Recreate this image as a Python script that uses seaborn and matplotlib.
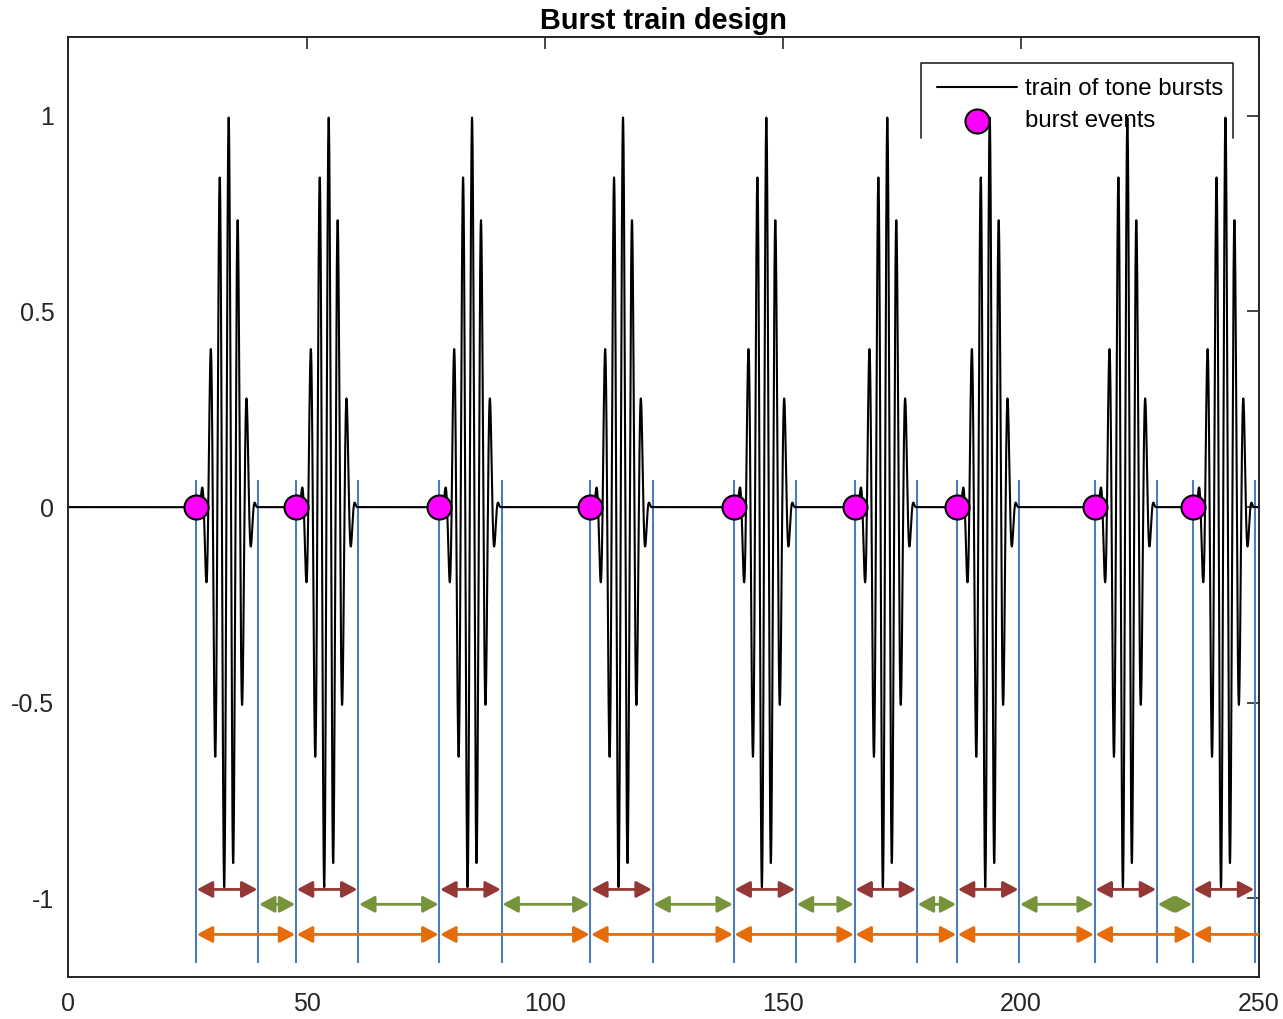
import numpy as np
import pandas as pd
import matplotlib
matplotlib.use("Agg")
import matplotlib.pyplot as plt
from matplotlib.patches import FancyArrowPatch
import seaborn as sns

# Burst onset times (x units) and the onset of the next burst past the window
burst_onsets = [26.8, 47.8, 77.9, 109.6, 139.7, 165.1, 186.6, 215.5, 236.1]
following_onset = 264.0
burst_duration = 13.07

# Tone-burst shape: Hann-windowed cosine carrier
carrier_period = 1.904
window_length = 12.5
window_center_offset = 6.59
carrier_peak_offset = 6.86

x_ticks = [0, 50, 100, 150, 200, 250]
y_ticks = [-1, -0.5, 0, 0.5, 1]
y_tick_labels = ["-1", "-0.5", "0", "0.5", "1"]

title_text = "Burst train design"
line_label = "train of tone bursts"
event_label = "burst events"

# Colours
blue = "#4A7EBB"
dark_red = "#953735"
olive = "#77933C"
orange = "#E46C0A"
magenta = "#FF00FF"
axis_grey = "#262626"

sns.set_theme(style="white")
plt.rcParams["font.family"] = ["Liberation Sans", "DejaVu Sans"]
plt.rcParams["axes.unicode_minus"] = False

# Build the burst train signal
t = np.arange(0.0, 250.0 + 1e-9, 0.01)
signal = np.zeros_like(t)
for onset in burst_onsets + [following_onset]:
    rel = t - onset
    inside = (rel >= 0) & (rel <= burst_duration)
    d = rel - window_center_offset
    env = np.where(np.abs(d) <= window_length / 2,
                   np.cos(np.pi * d / window_length) ** 2, 0.0)
    carrier = np.cos(2 * np.pi * (rel - carrier_peak_offset) / carrier_period)
    signal = np.where(inside, env * carrier, signal)

train = pd.DataFrame({"t": t, "amplitude": signal})
events = pd.DataFrame({"t": burst_onsets, "amplitude": np.zeros(len(burst_onsets))})

burst_ends = [o + burst_duration for o in burst_onsets]
all_onsets = burst_onsets + [following_onset]

fig = plt.figure(figsize=(12.83, 10.19), dpi=100)
ax = fig.add_axes([0.0533, 0.0415, 0.928, 0.9217])

# Vertical markers at burst starts and ends
ax.vlines(burst_onsets + burst_ends, -1.166, 0.069, colors=blue,
          linewidth=1.5, zorder=1)

sns.lineplot(data=train, x="t", y="amplitude", color="black", linewidth=1.5,
             estimator=None, sort=False, ax=ax, label=line_label, zorder=2)

def draw_arrow(x0, x1, y, color, style):
    arrow = FancyArrowPatch((x0, y), (x1, y), arrowstyle=style,
                            color=color, linewidth=2.0, shrinkA=0.5,
                            shrinkB=0.5, mutation_scale=1, joinstyle="round",
                            capstyle="butt", zorder=3)
    ax.add_patch(arrow)

head = "<|-|>,head_length=9.5,head_width=5.0"
# Burst durations
for o, e in zip(burst_onsets, burst_ends):
    draw_arrow(o, e, -0.977, dark_red, head)
# Silent gaps between bursts
for e, nxt in zip(burst_ends[:-1], burst_onsets[1:]):
    draw_arrow(e, nxt, -1.015, olive, head)
# Onset-to-onset intervals
for o, nxt in zip(all_onsets[:-1], all_onsets[1:]):
    draw_arrow(o, nxt, -1.092, orange, head)

sns.scatterplot(data=events, x="t", y="amplitude", s=300, color=magenta,
                edgecolor="black", linewidth=1.5, ax=ax, label=event_label,
                zorder=4)

ax.set_xlim(0, 250)
ax.set_ylim(-1.2, 1.2)
ax.set_xticks(x_ticks)
ax.set_xticklabels([str(v) for v in x_ticks])
ax.set_yticks(y_ticks)
ax.set_yticklabels(y_tick_labels)
ax.set_xlabel("")
ax.set_ylabel("")
ax.tick_params(axis="both", which="major", direction="in", length=8.6,
               width=1.2, color=axis_grey, labelcolor=axis_grey,
               labelsize=18, top=True, right=True)
ax.tick_params(axis="x", pad=11)
ax.tick_params(axis="y", pad=10)
for sp in ax.spines.values():
    sp.set_color(axis_grey)
    sp.set_linewidth(1.4)

ax.set_title(title_text, fontsize=20.8, fontweight="bold", color="black", pad=6)

handles, labels = ax.get_legend_handles_labels()
leg = ax.legend(handles, labels, loc="upper left",
                bbox_to_anchor=(0.716, 0.974), borderaxespad=0,
                frameon=False, fontsize=17.3, handlelength=3.3,
                handletextpad=0.37, borderpad=0.68, labelspacing=0.42)
for txt in leg.get_texts():
    txt.set_color("black")
# Legend border drawn on three sides
ax.plot([0.716, 0.716, 0.978, 0.978], [0.893, 0.9728, 0.9728, 0.893],
        transform=ax.transAxes, color=axis_grey, linewidth=1.2,
        clip_on=False, zorder=5)

fig.savefig("out.png", dpi=100)
